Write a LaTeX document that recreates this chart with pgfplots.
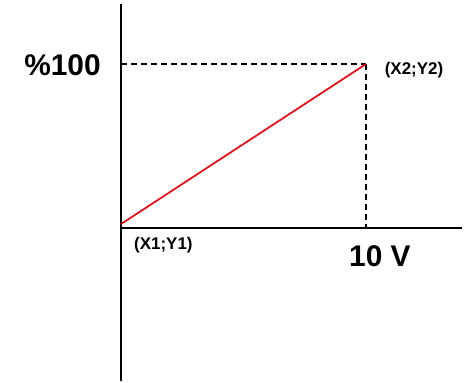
\documentclass[border=0pt]{standalone}
\usepackage{fontspec}
\setmainfont{Liberation Sans}
\usepackage{pgfplots}
\pgfplotsset{compat=1.18}
\definecolor{linered}{RGB}{220,20,30}
\begin{document}
\begin{tikzpicture}
\begin{axis}[
    width=464bp, height=381bp,
    scale only axis,
    hide axis,
    clip=false,
    xmin=-4.94, xmax=14.0,
    ymin=-98.1, ymax=140,
]
% keep the full axis area as the picture's size
\path (rel axis cs:0,0) rectangle (rel axis cs:1,1);
% axes drawn as plain lines
\addplot[black, line width=2.4bp, mark=none] coordinates {(0,137.5) (0,-98.1)};
\addplot[black, line width=2.4bp, mark=none] coordinates {(0,-2.5) (13.92,-2.5)};
% guide lines to the end point
\addplot[black, line width=1.5bp, dash pattern=on 6bp off 4bp, mark=none] coordinates {(0,100) (10,100)};
\addplot[black, line width=1.5bp, dash pattern=on 6bp off 4bp, mark=none] coordinates {(10,100) (10,-2.5)};
% characteristic
\addplot[linered, line width=1.8bp, mark=none] coordinates {(0,0) (10,100)};

\node[font=\fontsize{30}{36}\selectfont\bfseries] at (axis cs:-2.39,99.4) {\%100};
\node[font=\fontsize{30}{36}\selectfont\bfseries] at (axis cs:10.57,-20.3) {10 V};
\node[font=\fontsize{17}{20}\selectfont\bfseries] at (axis cs:11.96,95.9) {(X2;Y2)};
\node[font=\fontsize{17}{20}\selectfont\bfseries] at (axis cs:1.73,-13.1) {(X1;Y1)};
\end{axis}
\end{tikzpicture}
\end{document}
